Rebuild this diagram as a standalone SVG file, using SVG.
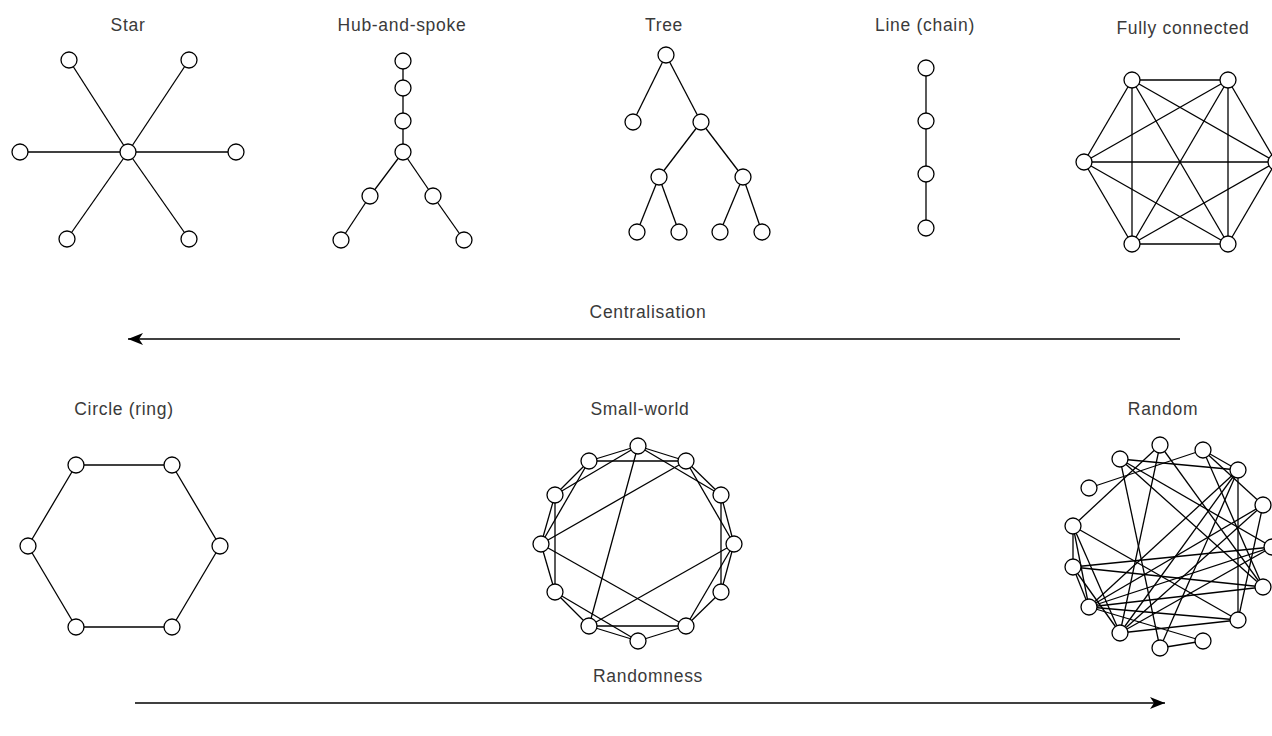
<svg xmlns="http://www.w3.org/2000/svg" width="1272" height="736" viewBox="0 0 1272 736">
  <style>
    .bg { fill: #ffffff; }
    .lbl { font-family: "Liberation Sans", Arial, sans-serif; font-size: 17.5px; letter-spacing: 0.7px; fill: #3a3a3a; text-anchor: middle; }
    .edges line { stroke: #000000; stroke-width: 1.3; fill: none; }
    .node circle { fill: #ffffff; stroke: #000000; stroke-width: 1.3; }
    .axis { stroke: #000000; stroke-width: 1.3; fill: none; }
  </style>
  <defs>
    <marker id="arrowhead" markerUnits="userSpaceOnUse" markerWidth="16" markerHeight="12" refX="15" refY="6" orient="auto">
      <path d="M15,6 L0,0 L4,6 L0,12 Z" fill="#000000"/>
    </marker>
  </defs>
  <rect class="bg" x="0" y="0" width="1272" height="736"/>

  <!-- Titles -->
  <g id="titles">
    <text class="lbl" x="128" y="31">Star</text>
    <text class="lbl" x="402" y="31">Hub-and-spoke</text>
    <text class="lbl" x="664" y="31">Tree</text>
    <text class="lbl" x="925" y="31">Line (chain)</text>
    <text class="lbl" x="1183" y="34">Fully connected</text>
    <text class="lbl" x="124" y="415">Circle (ring)</text>
    <text class="lbl" x="640" y="415">Small-world</text>
    <text class="lbl" x="1163" y="415">Random</text>
  </g>

  <!-- Axes -->
  <g id="axes">
    <g id="axis-centralisation">
      <line class="axis" x1="1180" y1="339" x2="128" y2="339" marker-end="url(#arrowhead)"/>
      <text class="lbl" x="648" y="318">Centralisation</text>
    </g>
    <g id="axis-randomness">
      <line class="axis" x1="135" y1="703" x2="1165" y2="703" marker-end="url(#arrowhead)"/>
      <text class="lbl" x="648" y="682">Randomness</text>
    </g>
  </g>

  <!-- Star -->
  <g id="star">
    <g class="edges" id="star-edges">
      <line x1="128" y1="152" x2="69" y2="60"/>
      <line x1="128" y1="152" x2="189" y2="60"/>
      <line x1="128" y1="152" x2="20" y2="152"/>
      <line x1="128" y1="152" x2="236" y2="152"/>
      <line x1="128" y1="152" x2="67" y2="239"/>
      <line x1="128" y1="152" x2="189" y2="239"/>
    </g>
    <g class="node" id="star-hub"><circle cx="128" cy="152" r="8"/></g>
    <g class="node" id="star-1"><circle cx="69" cy="60" r="8"/></g>
    <g class="node" id="star-2"><circle cx="189" cy="60" r="8"/></g>
    <g class="node" id="star-3"><circle cx="20" cy="152" r="8"/></g>
    <g class="node" id="star-4"><circle cx="236" cy="152" r="8"/></g>
    <g class="node" id="star-5"><circle cx="67" cy="239" r="8"/></g>
    <g class="node" id="star-6"><circle cx="189" cy="239" r="8"/></g>
  </g>

  <!-- Hub-and-spoke -->
  <g id="hub-and-spoke">
    <g class="edges" id="hub-edges">
      <line x1="403" y1="61" x2="403" y2="88"/>
      <line x1="403" y1="88" x2="403" y2="121"/>
      <line x1="403" y1="121" x2="403" y2="152"/>
      <line x1="403" y1="152" x2="370" y2="196"/>
      <line x1="370" y1="196" x2="341" y2="240"/>
      <line x1="403" y1="152" x2="433" y2="196"/>
      <line x1="433" y1="196" x2="464" y2="240"/>
    </g>
    <g class="node" id="hub-1"><circle cx="403" cy="61" r="8"/></g>
    <g class="node" id="hub-2"><circle cx="403" cy="88" r="8"/></g>
    <g class="node" id="hub-3"><circle cx="403" cy="121" r="8"/></g>
    <g class="node" id="hub-4"><circle cx="403" cy="152" r="8"/></g>
    <g class="node" id="hub-5"><circle cx="370" cy="196" r="8"/></g>
    <g class="node" id="hub-6"><circle cx="433" cy="196" r="8"/></g>
    <g class="node" id="hub-7"><circle cx="341" cy="240" r="8"/></g>
    <g class="node" id="hub-8"><circle cx="464" cy="240" r="8"/></g>
  </g>

  <!-- Tree -->
  <g id="tree">
    <g class="edges" id="tree-edges">
      <line x1="666" y1="55" x2="633" y2="122"/>
      <line x1="666" y1="55" x2="701" y2="122"/>
      <line x1="701" y1="122" x2="659" y2="177"/>
      <line x1="701" y1="122" x2="743" y2="177"/>
      <line x1="659" y1="177" x2="637" y2="232"/>
      <line x1="659" y1="177" x2="679" y2="232"/>
      <line x1="743" y1="177" x2="720" y2="232"/>
      <line x1="743" y1="177" x2="762" y2="232"/>
    </g>
    <g class="node" id="tree-root"><circle cx="666" cy="55" r="8"/></g>
    <g class="node" id="tree-l1a"><circle cx="633" cy="122" r="8"/></g>
    <g class="node" id="tree-l1b"><circle cx="701" cy="122" r="8"/></g>
    <g class="node" id="tree-l2a"><circle cx="659" cy="177" r="8"/></g>
    <g class="node" id="tree-l2b"><circle cx="743" cy="177" r="8"/></g>
    <g class="node" id="tree-l3a"><circle cx="637" cy="232" r="8"/></g>
    <g class="node" id="tree-l3b"><circle cx="679" cy="232" r="8"/></g>
    <g class="node" id="tree-l3c"><circle cx="720" cy="232" r="8"/></g>
    <g class="node" id="tree-l3d"><circle cx="762" cy="232" r="8"/></g>
  </g>

  <!-- Line (chain) -->
  <g id="chain">
    <g class="edges" id="chain-edges">
      <line x1="926" y1="68" x2="926" y2="121"/>
      <line x1="926" y1="121" x2="926" y2="174"/>
      <line x1="926" y1="174" x2="926" y2="228"/>
    </g>
    <g class="node" id="chain-1"><circle cx="926" cy="68" r="8"/></g>
    <g class="node" id="chain-2"><circle cx="926" cy="121" r="8"/></g>
    <g class="node" id="chain-3"><circle cx="926" cy="174" r="8"/></g>
    <g class="node" id="chain-4"><circle cx="926" cy="228" r="8"/></g>
  </g>

  <!-- Fully connected (K6) -->
  <g id="fully-connected">
    <g class="edges" id="full-edges">
      <line x1="1132" y1="80" x2="1228" y2="80"/>
      <line x1="1132" y1="80" x2="1084" y2="162"/>
      <line x1="1132" y1="80" x2="1276" y2="162"/>
      <line x1="1132" y1="80" x2="1132" y2="244"/>
      <line x1="1132" y1="80" x2="1228" y2="244"/>
      <line x1="1228" y1="80" x2="1084" y2="162"/>
      <line x1="1228" y1="80" x2="1276" y2="162"/>
      <line x1="1228" y1="80" x2="1132" y2="244"/>
      <line x1="1228" y1="80" x2="1228" y2="244"/>
      <line x1="1084" y1="162" x2="1276" y2="162"/>
      <line x1="1084" y1="162" x2="1132" y2="244"/>
      <line x1="1084" y1="162" x2="1228" y2="244"/>
      <line x1="1276" y1="162" x2="1132" y2="244"/>
      <line x1="1276" y1="162" x2="1228" y2="244"/>
      <line x1="1132" y1="244" x2="1228" y2="244"/>
    </g>
    <g class="node" id="full-1"><circle cx="1132" cy="80" r="8"/></g>
    <g class="node" id="full-2"><circle cx="1228" cy="80" r="8"/></g>
    <g class="node" id="full-3"><circle cx="1084" cy="162" r="8"/></g>
    <g class="node" id="full-4"><circle cx="1276" cy="162" r="8"/></g>
    <g class="node" id="full-5"><circle cx="1132" cy="244" r="8"/></g>
    <g class="node" id="full-6"><circle cx="1228" cy="244" r="8"/></g>
  </g>

  <!-- Circle (ring) -->
  <g id="ring">
    <g class="edges" id="ring-edges">
      <line x1="76" y1="465" x2="172" y2="465"/>
      <line x1="172" y1="465" x2="220" y2="546"/>
      <line x1="220" y1="546" x2="172" y2="627"/>
      <line x1="172" y1="627" x2="76" y2="627"/>
      <line x1="76" y1="627" x2="28" y2="546"/>
      <line x1="28" y1="546" x2="76" y2="465"/>
    </g>
    <g class="node" id="ring-1"><circle cx="76" cy="465" r="8"/></g>
    <g class="node" id="ring-2"><circle cx="172" cy="465" r="8"/></g>
    <g class="node" id="ring-3"><circle cx="220" cy="546" r="8"/></g>
    <g class="node" id="ring-4"><circle cx="172" cy="627" r="8"/></g>
    <g class="node" id="ring-5"><circle cx="76" cy="627" r="8"/></g>
    <g class="node" id="ring-6"><circle cx="28" cy="546" r="8"/></g>
  </g>

  <!-- Small-world -->
  <g id="small-world">
    <g class="edges" id="sw-edges">
      <!-- ring neighbours -->
      <line x1="638" y1="446" x2="686" y2="461"/>
      <line x1="686" y1="461" x2="721" y2="495"/>
      <line x1="721" y1="495" x2="734" y2="544"/>
      <line x1="734" y1="544" x2="721" y2="592"/>
      <line x1="721" y1="592" x2="686" y2="626"/>
      <line x1="686" y1="626" x2="638" y2="641"/>
      <line x1="638" y1="641" x2="589" y2="626"/>
      <line x1="589" y1="626" x2="555" y2="592"/>
      <line x1="555" y1="592" x2="541" y2="544"/>
      <line x1="541" y1="544" x2="555" y2="495"/>
      <line x1="555" y1="495" x2="589" y2="461"/>
      <line x1="589" y1="461" x2="638" y2="446"/>
      <!-- second neighbours -->
      <line x1="638" y1="446" x2="721" y2="495"/>
      <line x1="686" y1="461" x2="734" y2="544"/>
      <line x1="721" y1="495" x2="721" y2="592"/>
      <line x1="734" y1="544" x2="686" y2="626"/>
      <line x1="638" y1="641" x2="555" y2="592"/>
      <line x1="686" y1="626" x2="589" y2="626"/>
      <line x1="555" y1="592" x2="555" y2="495"/>
      <line x1="541" y1="544" x2="589" y2="461"/>
      <line x1="555" y1="495" x2="638" y2="446"/>
      <line x1="589" y1="461" x2="686" y2="461"/>
      <!-- long-range shortcuts -->
      <line x1="638" y1="446" x2="589" y2="626"/>
      <line x1="686" y1="461" x2="541" y2="544"/>
      <line x1="734" y1="544" x2="589" y2="626"/>
      <line x1="541" y1="544" x2="686" y2="626"/>
    </g>
    <g class="node" id="sw-0"><circle cx="638" cy="446" r="8"/></g>
    <g class="node" id="sw-1"><circle cx="686" cy="461" r="8"/></g>
    <g class="node" id="sw-2"><circle cx="721" cy="495" r="8"/></g>
    <g class="node" id="sw-3"><circle cx="734" cy="544" r="8"/></g>
    <g class="node" id="sw-4"><circle cx="721" cy="592" r="8"/></g>
    <g class="node" id="sw-5"><circle cx="686" cy="626" r="8"/></g>
    <g class="node" id="sw-6"><circle cx="638" cy="641" r="8"/></g>
    <g class="node" id="sw-7"><circle cx="589" cy="626" r="8"/></g>
    <g class="node" id="sw-8"><circle cx="555" cy="592" r="8"/></g>
    <g class="node" id="sw-9"><circle cx="541" cy="544" r="8"/></g>
    <g class="node" id="sw-10"><circle cx="555" cy="495" r="8"/></g>
    <g class="node" id="sw-11"><circle cx="589" cy="461" r="8"/></g>
  </g>

  <!-- Random -->
  <g id="random">
    <g class="edges" id="rnd-edges">
      <line x1="1089" y1="488" x2="1203" y2="450"/>
      <line x1="1120" y1="459" x2="1238" y2="470"/>
      <line x1="1160" y1="445" x2="1073" y2="526"/>
      <line x1="1160" y1="445" x2="1120" y2="633"/>
      <line x1="1120" y1="459" x2="1160" y2="648"/>
      <line x1="1120" y1="459" x2="1272" y2="547"/>
      <line x1="1120" y1="459" x2="1263" y2="587"/>
      <line x1="1203" y1="450" x2="1238" y2="470"/>
      <line x1="1238" y1="470" x2="1238" y2="620"/>
      <line x1="1238" y1="470" x2="1120" y2="633"/>
      <line x1="1238" y1="470" x2="1089" y2="607"/>
      <line x1="1238" y1="470" x2="1160" y2="648"/>
      <line x1="1073" y1="526" x2="1073" y2="567"/>
      <line x1="1073" y1="526" x2="1089" y2="607"/>
      <line x1="1073" y1="526" x2="1120" y2="633"/>
      <line x1="1073" y1="526" x2="1238" y2="620"/>
      <line x1="1073" y1="567" x2="1272" y2="547"/>
      <line x1="1073" y1="567" x2="1263" y2="587"/>
      <line x1="1073" y1="567" x2="1089" y2="607"/>
      <line x1="1073" y1="567" x2="1120" y2="633"/>
      <line x1="1089" y1="607" x2="1263" y2="505"/>
      <line x1="1089" y1="607" x2="1272" y2="547"/>
      <line x1="1089" y1="607" x2="1263" y2="587"/>
      <line x1="1089" y1="607" x2="1238" y2="620"/>
      <line x1="1089" y1="607" x2="1203" y2="641"/>
      <line x1="1203" y1="641" x2="1160" y2="648"/>
      <line x1="1263" y1="505" x2="1238" y2="620"/>
      <line x1="1120" y1="633" x2="1238" y2="620"/>
      <line x1="1120" y1="633" x2="1263" y2="505"/>
      <line x1="1120" y1="633" x2="1272" y2="547"/>
      <line x1="1203" y1="450" x2="1263" y2="587"/>
      <line x1="1203" y1="450" x2="1263" y2="505"/>
      <line x1="1160" y1="445" x2="1263" y2="587"/>
    </g>
    <g class="node" id="rnd-a"><circle cx="1160" cy="445" r="8"/></g>
    <g class="node" id="rnd-b"><circle cx="1203" cy="450" r="8"/></g>
    <g class="node" id="rnd-c"><circle cx="1120" cy="459" r="8"/></g>
    <g class="node" id="rnd-d"><circle cx="1238" cy="470" r="8"/></g>
    <g class="node" id="rnd-e"><circle cx="1089" cy="488" r="8"/></g>
    <g class="node" id="rnd-f"><circle cx="1263" cy="505" r="8"/></g>
    <g class="node" id="rnd-g"><circle cx="1073" cy="526" r="8"/></g>
    <g class="node" id="rnd-h"><circle cx="1272" cy="547" r="8"/></g>
    <g class="node" id="rnd-i"><circle cx="1073" cy="567" r="8"/></g>
    <g class="node" id="rnd-j"><circle cx="1263" cy="587" r="8"/></g>
    <g class="node" id="rnd-k"><circle cx="1089" cy="607" r="8"/></g>
    <g class="node" id="rnd-l"><circle cx="1238" cy="620" r="8"/></g>
    <g class="node" id="rnd-m"><circle cx="1120" cy="633" r="8"/></g>
    <g class="node" id="rnd-n"><circle cx="1203" cy="641" r="8"/></g>
    <g class="node" id="rnd-o"><circle cx="1160" cy="648" r="8"/></g>
  </g>
</svg>
